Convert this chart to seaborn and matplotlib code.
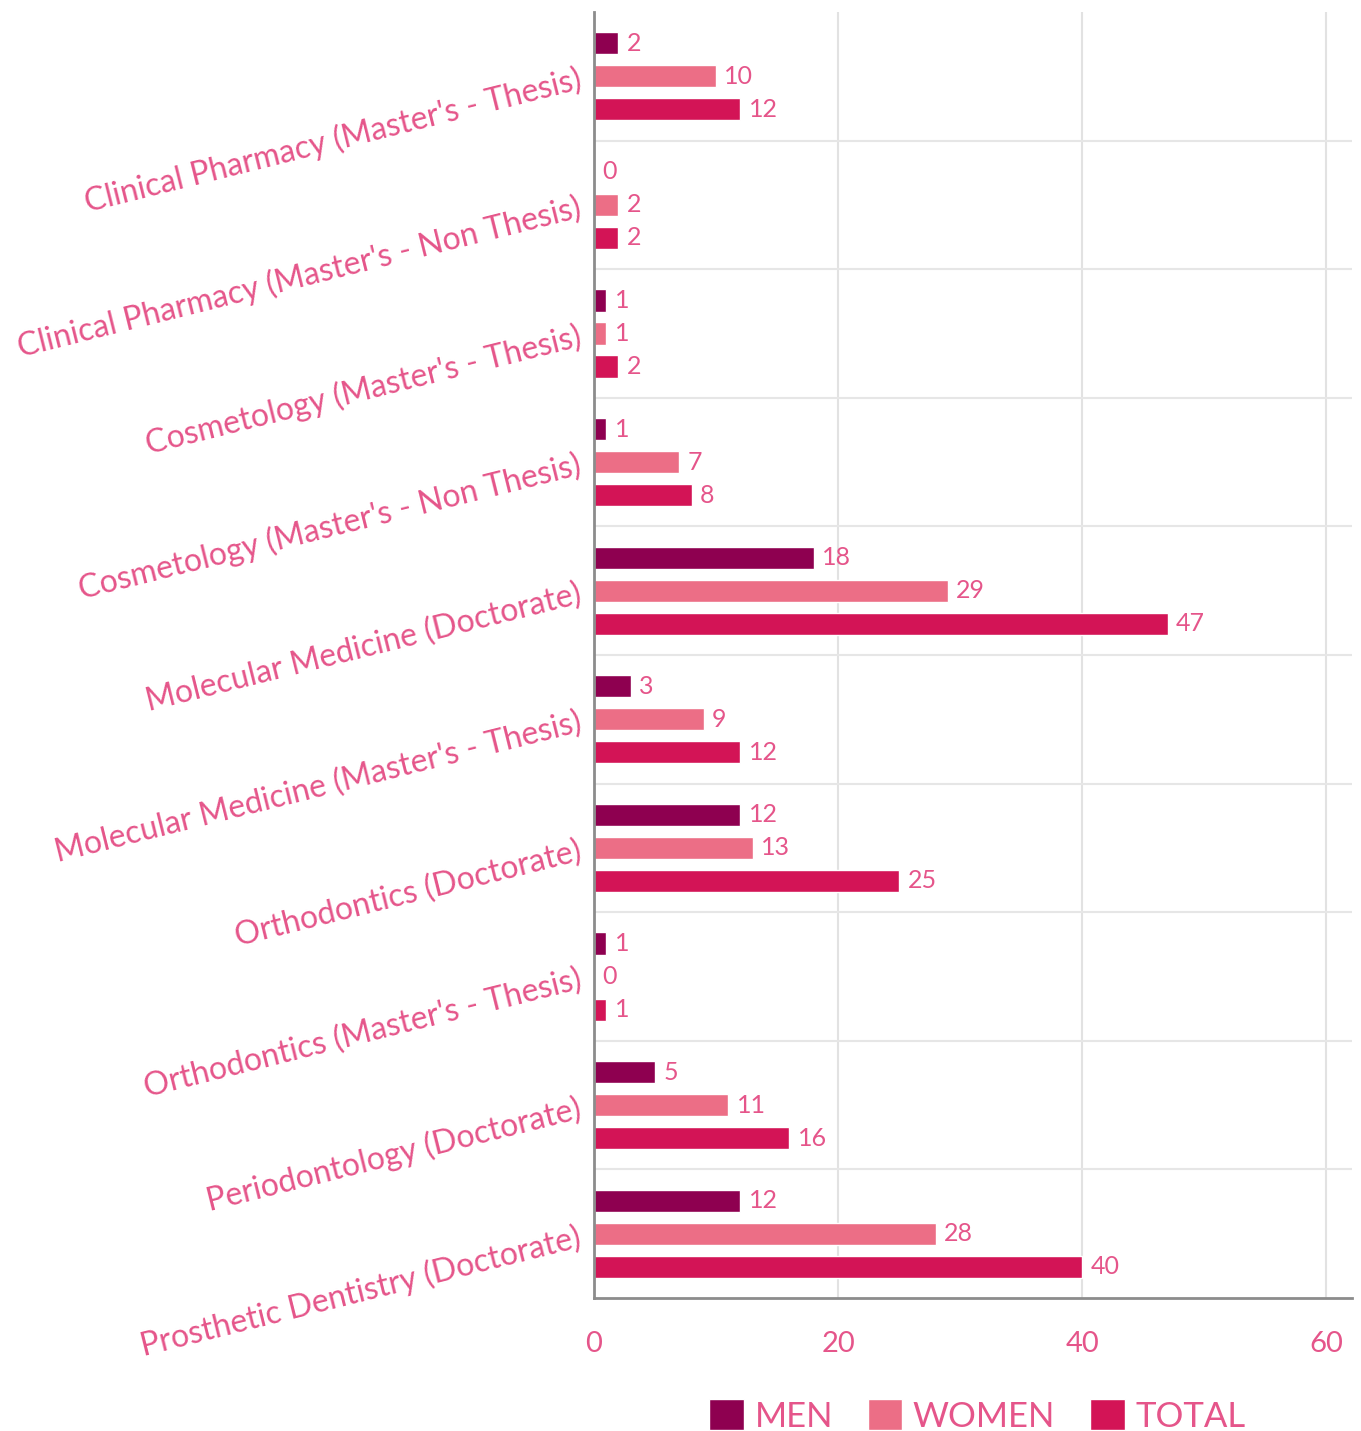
import pandas as pd
import matplotlib.pyplot as plt
import seaborn as sns

# chart values
programs = [
    "Clinical Pharmacy (Master's - Thesis)",
    "Clinical Pharmacy (Master's - Non Thesis)",
    "Cosmetology (Master's - Thesis)",
    "Cosmetology (Master's - Non Thesis)",
    "Molecular Medicine (Doctorate)",
    "Molecular Medicine (Master's - Thesis)",
    "Orthodontics (Doctorate)",
    "Orthodontics (Master's - Thesis)",
    "Periodontology (Doctorate)",
    "Prosthetic Dentistry (Doctorate)",
]
men = [2, 0, 1, 1, 18, 3, 12, 1, 5, 12]
women = [10, 2, 1, 7, 29, 9, 13, 0, 11, 28]
total = [12, 2, 2, 8, 47, 12, 25, 1, 16, 40]
groups = ["MEN", "WOMEN", "TOTAL"]
x_ticks = [0, 20, 40, 60]

# long format for seaborn
df = pd.DataFrame({
    "program": programs * 3,
    "count": men + women + total,
    "group": [g for g in groups for _ in programs],
})

palette = {"MEN": "#8E0050", "WOMEN": "#EC6E86", "TOTAL": "#D31456"}
text_col = "#E5558A"

sns.set_style("white")
plt.rcParams['font.family'] = ['Lato', 'DejaVu Sans']

fig = plt.figure(figsize=(13.61, 14.31), dpi=100)
ax = fig.add_axes([0.4364, 0.0929, 0.557, 0.8987])

sns.barplot(data=df, y="program", x="count", hue="group", orient="h",
            palette=palette, saturation=1, width=0.77, gap=0.33, order=programs,
            hue_order=groups, ax=ax, legend=True)

for cont in ax.containers:
    ax.bar_label(cont, padding=6, color=text_col, fontsize=18)

ax.set_xlim(0, 62.1)
ax.set_ylim(len(programs) - 0.5, -0.5)
ax.set_xticks(x_ticks)
ax.set_xticklabels([str(t) for t in x_ticks], color=text_col, fontsize=21)
ax.set_yticks(range(len(programs)))
ax.set_yticklabels(programs, rotation=14, ha='right', va='center_baseline',
                   rotation_mode='anchor', color=text_col, fontsize=23)
ax.set_yticks([i + 0.5 for i in range(len(programs) - 1)], minor=True)

ax.tick_params(axis='y', which='major', length=6, width=1.5, color='#999999', pad=4)
ax.tick_params(axis='y', which='minor', length=0)
ax.tick_params(axis='x', length=6, width=1.5, color='#999999', pad=18)

ax.grid(axis='x', color='#e2e2e2', linewidth=1.5)
ax.grid(axis='y', which='minor', color='#e6e6e6', linewidth=1.5)
ax.set_axisbelow(True)

for s in ['top', 'right']:
    ax.spines[s].set_visible(False)
for s in ['left', 'bottom']:
    ax.spines[s].set_color('#8c8c8c')
    ax.spines[s].set_linewidth(2)

ax.set_xlabel("")
ax.set_ylabel("")

handles, labels = ax.get_legend_handles_labels()
ax.get_legend().remove()
leg = fig.legend(handles, labels, loc='center', bbox_to_anchor=(0.718, 0.0105), ncol=3,
                 frameon=False, fontsize=25, handlelength=1.0, handleheight=1.0,
                 handletextpad=0.3, columnspacing=1.0, borderpad=0)
for t in leg.get_texts():
    t.set_color(text_col)

fig.savefig("out.png", dpi=100)
